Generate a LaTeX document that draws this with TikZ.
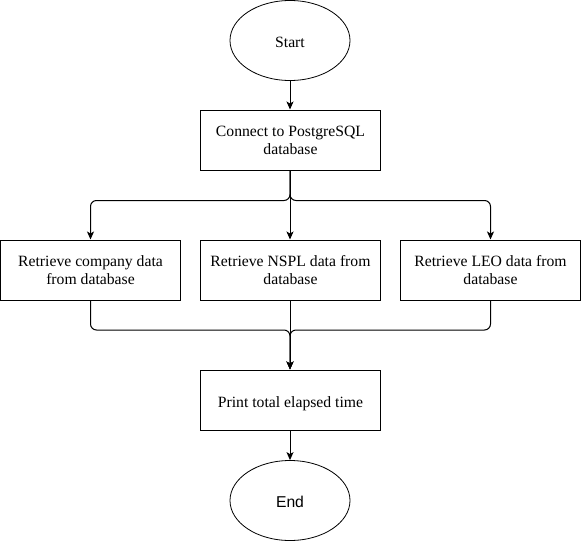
\documentclass[tikz,border=0pt]{standalone}
\usepackage{fontspec}
\setmainfont{Liberation Serif}
\setsansfont{Liberation Sans}
\usepackage{xcolor}
\usetikzlibrary{shapes.geometric, arrows.meta, calc}
\colorlet{line-color}{black}
\tikzset{
    terminal/.style = {
        ellipse, draw=line-color, line width=0.8pt,
        minimum width=120pt, minimum height=80pt, inner sep=0pt,
        font=\fontsize{15.7}{18.7}\selectfont, one-line
    },
    process/.style = {
        rectangle, draw=line-color, line width=1pt,
        minimum width=180pt, minimum height=60pt, inner sep=0pt,
        align=center, font=\fontsize{15.7}{18}\selectfont
    },
    one-line/.style = {text height=14.5pt, text depth=0pt},
    flow/.style = {
        draw=line-color, line width=1pt, rounded corners=6pt,
        -{Stealth[length=8pt, width=7pt, inset=2pt]}
    },
}

\begin{document}
\begin{tikzpicture}[x=1pt,y=-1pt]
\useasboundingbox (0,0) rectangle (581,541);

\node[terminal] (start) at (290,40.5) {Start};
\node[process] (connect) at (290.5,140) {Connect to PostgreSQL\\database};

\node[process] (ret-company) at (90.5,270) {Retrieve company data\\from database};
\node[process] (ret-nspl) at (290.5,270) {Retrieve NSPL data from\\database};
\node[process] (ret-leo) at (490.5,270) {Retrieve LEO data from\\database};

\node[process, one-line] (print) at (290.5,400) {Print total elapsed time};
\node[terminal, font=\sffamily\fontsize{15.7}{18.7}\selectfont] (end) at (290,500.5) {End};

\draw[flow] (start) -- (start |- connect.north);

% fan out
\draw[flow] (connect.south -| start) -- ++(0,30) -| (ret-company);
\draw[flow] (connect.south -| start) -- (start |- ret-nspl.north);
\draw[flow] (connect.south -| start) -- ++(0,30) -| (ret-leo);

% join
\draw[flow] (ret-company) -- ++(0,60) -| (start |- print.north);
\draw[flow] (ret-nspl.south -| start) -- (start |- print.north);
\draw[flow] (ret-leo) -- ++(0,60) -| (start |- print.north);

\draw[flow] (print.south -| start) -- (end);
\end{tikzpicture}
\end{document}
